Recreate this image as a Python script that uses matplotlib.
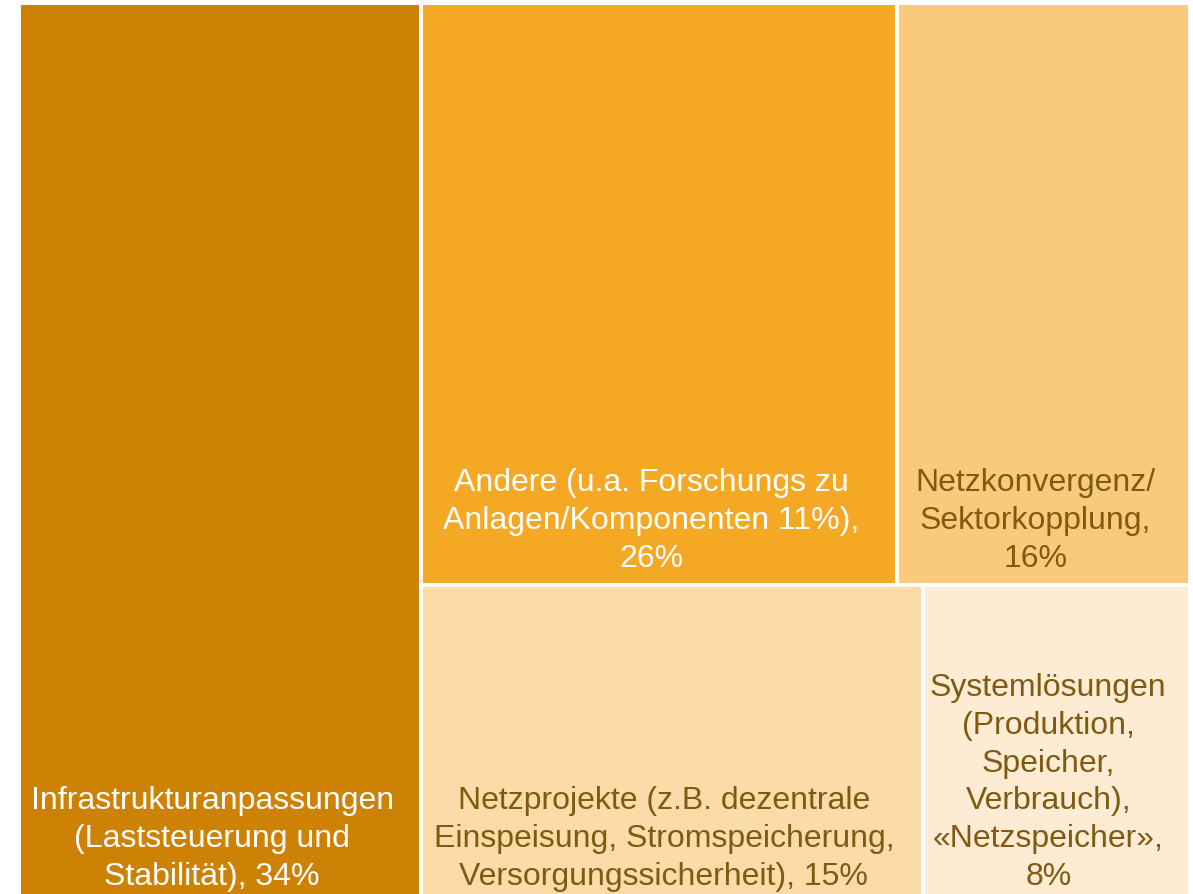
import matplotlib
matplotlib.use("Agg")
import matplotlib.pyplot as plt
from matplotlib.patches import Rectangle

plt.rcParams['font.family'] = ['Liberation Sans', 'DejaVu Sans']

# anteile in prozent
labels = ["Infrastrukturanpassungen\n(Laststeuerung und\nStabilität), 34%",
          "Andere (u.a. Forschungs zu\nAnlagen/Komponenten 11%),\n26%",
          "Netzkonvergenz/\nSektorkopplung,\n16%",
          "Netzprojekte (z.B. dezentrale\nEinspeisung, Stromspeicherung,\nVersorgungssicherheit), 15%",
          "Systemlösungen\n(Produktion,\nSpeicher,\nVerbrauch),\n«Netzspeicher»,\n8%"]
werte = [34, 26, 16, 15, 8]
farben = ["#CD8206", "#F5A823", "#F9CA7B", "#FBDBA7", "#FDEBD3"]
textfarben = ["white", "white", "#7F5A10", "#7F5A10", "#7F5A10"]

W, H = 1171.0, 900.0

fig = plt.figure(figsize=(11.93, 8.94), dpi=100)
ax = fig.add_axes([19/1193, (894-903)/894, W/1193, H/894])
ax.set_xlim(0, W)
ax.set_ylim(H, 0)
ax.axis('off')

total = sum(werte)
# linke spalte
w0 = W*werte[0]/total
rects = [(0, 0, w0, H)]
rest = W - w0
# rechte seite: obere zeile (1,2), untere zeile (3,4)
oben = werte[1] + werte[2]
unten = werte[3] + werte[4]
h_oben = H*oben/(oben+unten)
wa = rest*werte[1]/oben
rects.append((w0, 0, wa, h_oben))
rects.append((w0+wa, 0, rest-wa, h_oben))
wb = rest*werte[3]/unten
rects.append((w0, h_oben, wb, H-h_oben))
rects.append((w0+wb, h_oben, rest-wb, H-h_oben))

for (x, y, w, h), lab, fc, tc in zip(rects, labels, farben, textfarben):
    ax.add_patch(Rectangle((x, y), w, h, facecolor=fc, edgecolor='white', linewidth=2.9))
    ax.text(x + w/2 - 8, y + h - 11, lab, ha='center', va='bottom', color=tc,
            fontsize=23, linespacing=1.34, multialignment='center')

fig.savefig("out.png", dpi=100)
